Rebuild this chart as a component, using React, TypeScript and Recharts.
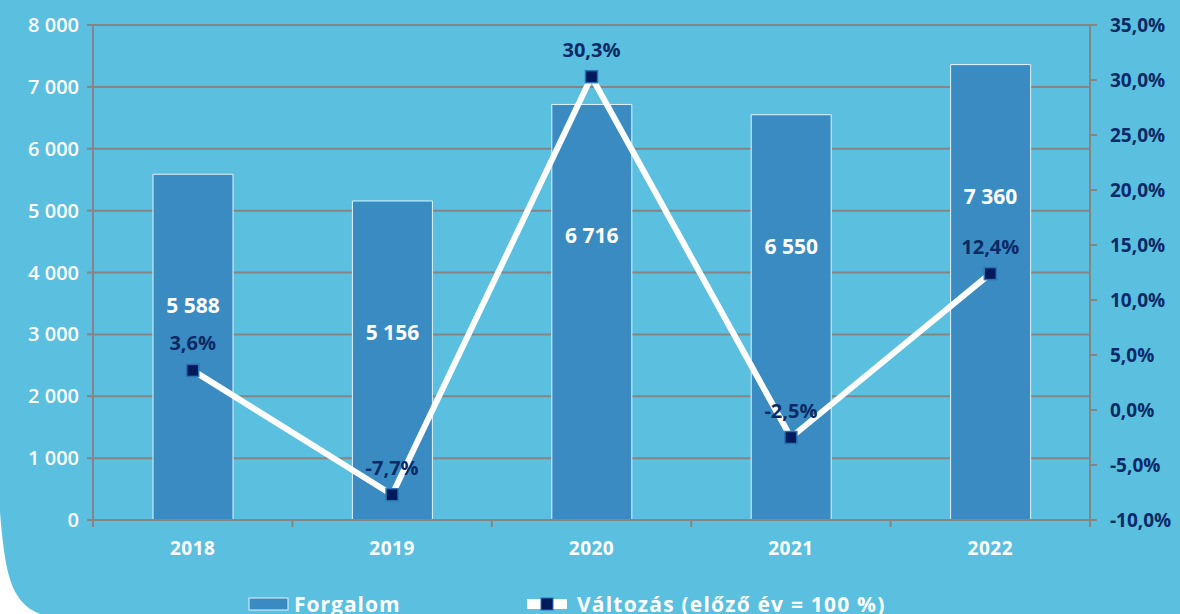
import React from "react";
import {
  ComposedChart,
  Bar,
  Line,
  XAxis,
  YAxis,
  CartesianGrid,
  LabelList,
} from "recharts";

const years = ["2018", "2019", "2020", "2021", "2022"];
const forgalom = [5588, 5156, 6716, 6550, 7360];
const valtozas = [3.6, -7.7, 30.3, -2.5, 12.4];
const leftTicks = [0, 1000, 2000, 3000, 4000, 5000, 6000, 7000, 8000];
const rightTicks = [-10, -5, 0, 5, 10, 15, 20, 25, 30, 35];

const data = years.map((year, i) => ({
  year,
  forgalom: forgalom[i],
  valtozas: valtozas[i],
}));

const W = 1180;
const H = 614;
const LEFT_W = 93;
const RIGHT_W = 90;
const BAND = (W - LEFT_W - RIGHT_W) / years.length;

const BG = "#5bbfdf";
const BAR = "#3a8bc1";
const NAVY = "#0b2a66";
const GRID = "#858585";
const FONT = "'Open Sans', 'Noto Sans', sans-serif";

const thousands = (v: number) =>
  String(v).replace(/\B(?=(\d{3})+(?!\d))/g, " ");
const pct = (v: number) => `${v.toFixed(1).replace(".", ",")}%`;

function YearTick(props: any) {
  const { x, y, payload, index } = props;
  return (
    <g>
      <line x1={x - BAND / 2} x2={x - BAND / 2} y1={y} y2={y + 7} stroke={GRID} strokeWidth={2} />
      {index === years.length - 1 && (
        <line x1={x + BAND / 2} x2={x + BAND / 2} y1={y} y2={y + 7} stroke={GRID} strokeWidth={2} />
      )}
      <text
        x={x}
        y={y + 35}
        textAnchor="middle"
        fill="#ffffff"
        fontSize={19}
        fontWeight={700}
        fontFamily={FONT}
        letterSpacing={0.5}
      >
        {payload.value}
      </text>
    </g>
  );
}

function SquareDot(props: any) {
  const { cx, cy } = props;
  if (cx == null || cy == null) return null;
  return (
    <rect
      x={cx - 6}
      y={cy - 6}
      width={12}
      height={12}
      fill="#001a5c"
      stroke="#2a74b4"
      strokeWidth={1.5}
    />
  );
}

function Legend() {
  return (
    <svg
      width={W}
      height={H}
      style={{ position: "absolute", left: 0, top: 0, pointerEvents: "none" }}
    >
      <path d="M0,512 C5,572 10,602 40,614 L0,614 Z" fill="#ffffff" />
      <rect x={249} y={598} width={39} height={12} fill={BAR} stroke="#e3f3fb" strokeWidth={1} />
      <text x={294} y={612} fill="#ffffff" fontSize={21} fontWeight={700} fontFamily={FONT} letterSpacing={1}>
        Forgalom
      </text>
      <rect x={527} y={599} width={14} height={10} fill="#ffffff" />
      <rect x={553} y={599} width={14} height={10} fill="#ffffff" />
      <rect x={541} y={598} width={12} height={12} fill="#001a5c" stroke="#2a74b4" strokeWidth={1} />
      <text x={577} y={612} fill="#ffffff" fontSize={21} fontWeight={700} fontFamily={FONT} letterSpacing={1.2}>
        Változás (előző év = 100 %)
      </text>
    </svg>
  );
}

export default function App() {
  return (
    <div
      style={{
        position: "absolute",
        left: 0,
        top: 0,
        width: W,
        height: H,
        background: BG,
        overflow: "hidden",
      }}
    >
      <ComposedChart
        width={W}
        height={H}
        data={data}
        margin={{ top: 25, right: 0, left: 0, bottom: 54 }}
      >
        <CartesianGrid
          yAxisId="left"
          vertical={false}
          stroke={GRID}
          strokeWidth={2}
        />
        <XAxis
          dataKey="year"
          height={40}
          tickLine={false}
          tickSize={0}
          tickMargin={0}
          axisLine={{ stroke: GRID, strokeWidth: 2 }}
          tick={<YearTick />}
          interval={0}
        />
        <YAxis
          yAxisId="left"
          orientation="left"
          width={LEFT_W}
          domain={[0, 8000]}
          ticks={leftTicks}
          interval={0}
          tickFormatter={thousands}
          tickSize={6}
          tickMargin={8}
          tickLine={{ stroke: GRID, strokeWidth: 2 }}
          axisLine={{ stroke: GRID, strokeWidth: 2 }}
          tick={{ fill: "#ffffff", fontSize: 20, fontWeight: 600, fontFamily: FONT }}
        />
        <YAxis
          yAxisId="right"
          orientation="right"
          width={RIGHT_W}
          domain={[-10, 35]}
          ticks={rightTicks}
          interval={0}
          tickFormatter={pct}
          tickSize={7}
          tickMargin={13}
          tickLine={{ stroke: GRID, strokeWidth: 2 }}
          axisLine={{ stroke: GRID, strokeWidth: 2 }}
          tick={{ fill: NAVY, fontSize: 19, fontWeight: 700, fontFamily: FONT }}
        />
        <Bar
          yAxisId="left"
          dataKey="forgalom"
          fill={BAR}
          stroke="#e3f3fb"
          strokeWidth={1}
          barSize={80}
          isAnimationActive={false}
        >
          <LabelList
            dataKey="forgalom"
            position="insideTop"
            offset={124}
            formatter={(v: any) => thousands(Number(v))}
            fill="#ffffff"
            fontSize={21}
            fontWeight={700}
            fontFamily={FONT}
          />
        </Bar>
        <Line
          yAxisId="right"
          dataKey="valtozas"
          stroke="#ffffff"
          strokeWidth={6}
          dot={<SquareDot />}
          activeDot={false}
          isAnimationActive={false}
        >
          <LabelList
            dataKey="valtozas"
            position="top"
            offset={20}
            formatter={(v: any) => pct(Number(v))}
            fill={NAVY}
            fontSize={20}
            fontWeight={700}
            fontFamily={FONT}
          />
        </Line>
      </ComposedChart>
      <Legend />
    </div>
  );
}
